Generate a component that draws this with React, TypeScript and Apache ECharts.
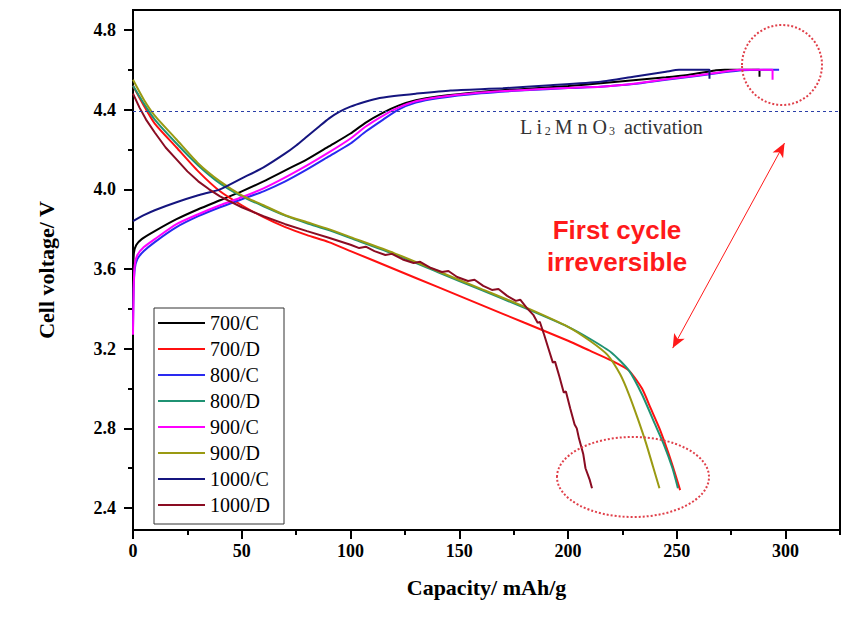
import React, { useEffect, useRef } from "react";
import * as echarts from "echarts";

const seriesNames = ["700/C", "700/D", "800/C", "800/D", "900/C", "900/D", "1000/C", "1000/D"];
const seriesColors = ["#000000", "#ff1010", "#2a2af0", "#1f9273", "#ff00ff", "#9a9a12", "#15157f", "#8a0c22"];

const xLabelValues = [0, 50, 100, 150, 200, 250, 300];
const xMinorValues = [25, 75, 125, 175, 225, 275, 325];
const yLabelValues = [2.4, 2.8, 3.2, 3.6, 4.0, 4.4, 4.8];
const yMinorValues = [2.6, 3.0, 3.4, 3.8, 4.2, 4.6];

const c700: [number, number][] = [[0, 3.56], [0.4, 3.68], [1.5, 3.72], [4, 3.75], [10, 3.79], [20, 3.85], [30, 3.9], [40, 3.945], [50, 3.99], [60, 4.04], [70, 4.095], [80, 4.15], [90, 4.215], [100, 4.28], [107, 4.335], [115, 4.385], [122, 4.42], [130, 4.447], [140, 4.466], [160, 4.489], [180, 4.504], [200, 4.519], [215, 4.532], [230, 4.547], [245, 4.562], [255, 4.574], [262, 4.586], [268, 4.598], [272, 4.6], [288, 4.6], [288, 4.565]];
const d700: [number, number][] = [[0, 4.52], [5, 4.42], [10, 4.33], [20, 4.21], [30, 4.09], [40, 3.99], [50, 3.92], [60, 3.86], [70, 3.81], [80, 3.77], [90, 3.735], [100, 3.69], [120, 3.6], [140, 3.51], [160, 3.42], [180, 3.33], [200, 3.24], [210, 3.19], [220, 3.14], [228, 3.09], [234, 3.0], [238, 2.9], [242, 2.8], [246, 2.68], [249, 2.58], [251.5, 2.49]];
const c800: [number, number][] = [[0, 3.3], [0.3, 3.5], [0.8, 3.6], [2, 3.65], [5, 3.69], [10, 3.735], [20, 3.81], [30, 3.865], [40, 3.91], [50, 3.95], [60, 3.99], [70, 4.04], [80, 4.1], [90, 4.165], [100, 4.23], [107, 4.29], [115, 4.35], [122, 4.4], [130, 4.435], [140, 4.457], [160, 4.482], [180, 4.497], [200, 4.508], [215, 4.515], [230, 4.528], [245, 4.55], [260, 4.57], [270, 4.585], [280, 4.598], [297, 4.6]];
const d800: [number, number][] = [[0, 4.52], [5, 4.43], [10, 4.35], [20, 4.23], [30, 4.12], [40, 4.03], [50, 3.965], [60, 3.915], [70, 3.868], [80, 3.83], [90, 3.795], [100, 3.755], [120, 3.675], [140, 3.585], [160, 3.495], [180, 3.405], [200, 3.31], [210, 3.25], [220, 3.18], [228, 3.09], [234, 2.97], [240, 2.82], [244, 2.72], [248, 2.6], [250.5, 2.5]];
const c900: [number, number][] = [[0, 3.27], [0.3, 3.5], [0.8, 3.62], [2, 3.67], [5, 3.71], [10, 3.75], [20, 3.825], [30, 3.875], [40, 3.92], [50, 3.96], [60, 4.005], [70, 4.06], [80, 4.12], [90, 4.185], [100, 4.255], [107, 4.315], [115, 4.37], [122, 4.41], [130, 4.442], [140, 4.462], [160, 4.486], [180, 4.499], [200, 4.509], [215, 4.515], [230, 4.53], [245, 4.552], [260, 4.572], [270, 4.588], [279, 4.6], [294, 4.6], [294, 4.55]];
const d900: [number, number][] = [[0, 4.55], [5, 4.45], [10, 4.37], [20, 4.25], [30, 4.13], [40, 4.04], [50, 3.97], [60, 3.92], [70, 3.87], [80, 3.835], [90, 3.8], [100, 3.76], [120, 3.68], [140, 3.59], [160, 3.5], [180, 3.41], [200, 3.31], [210, 3.24], [218, 3.17], [224, 3.07], [228, 2.97], [232, 2.85], [236, 2.72], [239, 2.61], [242, 2.5]];
const c1000: [number, number][] = [[0, 3.84], [5, 3.87], [10, 3.895], [20, 3.935], [30, 3.97], [40, 4.0], [50, 4.055], [60, 4.11], [70, 4.18], [75, 4.22], [80, 4.265], [85, 4.31], [90, 4.355], [95, 4.39], [100, 4.415], [106, 4.437], [112, 4.455], [120, 4.468], [130, 4.48], [146, 4.496], [170, 4.507], [192, 4.522], [215, 4.54], [230, 4.565], [245, 4.59], [251, 4.6], [265, 4.6], [265, 4.555]];
const d1000: [number, number][] = [[0, 4.48], [3, 4.41], [6, 4.35], [10, 4.285], [15, 4.21], [20, 4.15], [25, 4.09], [30, 4.04], [35, 4.0], [40, 3.965], [50, 3.91], [60, 3.865], [70, 3.825], [80, 3.79], [90, 3.757], [100, 3.722], [104, 3.705], [107, 3.712], [111, 3.69], [116, 3.67], [119, 3.676], [124, 3.648], [129, 3.63], [132, 3.636], [137, 3.605], [142, 3.585], [145, 3.59], [149, 3.56], [154, 3.54], [157, 3.546], [161, 3.515], [165, 3.495], [168, 3.5], [172, 3.465], [176, 3.44], [178, 3.446], [181, 3.405], [184, 3.37], [186, 3.33], [187, 3.335], [189, 3.27], [191, 3.2], [193, 3.13], [194, 3.135], [196, 3.06], [198, 2.98], [199, 2.985], [201, 2.9], [203, 2.82], [204, 2.8], [205, 2.75], [207, 2.67], [208, 2.6], [210, 2.54], [211, 2.5]];

const seriesData = [c700, d700, c800, d800, c900, d900, c1000, d1000];

const activationLevel = 4.39;
const arrowStart: [number, number] = [248.1, 3.203];
const arrowEnd: [number, number] = [299.5, 4.232];

const SERIF = "'Liberation Serif', 'Times New Roman', serif";

export default function App() {
  const ref = useRef<HTMLDivElement>(null);
  useEffect(() => {
    if (!ref.current) return;
    const chart = echarts.init(ref.current, undefined, { renderer: "svg" });
    const series: any[] = seriesNames.map((name, i) => {
      const s: any = {
        name,
        type: "line",
        data: seriesData[i],
        showSymbol: false,
        symbol: "none",
        smooth: i === 7 ? false : 0.2,
        xAxisIndex: 0,
        yAxisIndex: 0,
        lineStyle: { color: seriesColors[i], width: 2 },
        itemStyle: { color: seriesColors[i] },
        z: 3,
      };
      if (i === 0) {
        s.markLine = {
          silent: true,
          symbol: "none",
          label: { show: false },
          lineStyle: { color: "#2b3fa8", type: [3, 3], width: 1 },
          data: [{ yAxis: activationLevel }],
        };
      }
      if (i === 1) {
        s.markLine = {
          silent: true,
          symbol: ["arrow", "arrow"],
          symbolSize: [9, 14],
          label: { show: false },
          lineStyle: { color: "#ff1a1a", type: "solid", width: 1 },
          data: [[{ coord: arrowStart }, { coord: arrowEnd }]],
        };
      }
      return s;
    });

    const axisCommon = {
      axisLine: { show: true, lineStyle: { color: "#000", width: 2 } },
      splitLine: { show: false },
    };

    chart.setOption({
      animation: false,
      backgroundColor: "#ffffff",
      grid: { left: 133, right: 15, top: 10, bottom: 92, show: true, borderColor: "#000", borderWidth: 2, backgroundColor: "transparent" },
      legend: {
        orient: "vertical",
        left: 154,
        top: 308,
        icon: "rect",
        itemWidth: 47,
        itemHeight: 2,
        itemGap: 6,
        padding: [5, 14, 9, 4],
        borderColor: "#333",
        borderWidth: 1,
        backgroundColor: "#fff",
        textStyle: { fontFamily: SERIF, fontSize: 20, color: "#000", lineHeight: 20 },
        data: seriesNames,
      },
      xAxis: [
        {
          type: "value",
          min: 0,
          max: 325,
          position: "bottom",
          ...axisCommon,
          axisTick: { show: true, customValues: xLabelValues, length: 9, lineStyle: { color: "#000", width: 2 } },
          axisLabel: {
            customValues: xLabelValues,
            margin: 12,
            fontFamily: SERIF,
            fontWeight: "bold",
            fontSize: 18,
            color: "#000",
          },
          name: "Capacity/ mAh/g",
          nameLocation: "middle",
          nameGap: 46,
          nameTextStyle: { fontFamily: SERIF, fontWeight: "bold", fontSize: 22, color: "#000" },
        },
        {
          type: "value",
          min: 0,
          max: 325,
          position: "bottom",
          axisLine: { show: false },
          splitLine: { show: false },
          axisTick: { show: true, customValues: xMinorValues, length: 5, lineStyle: { color: "#000", width: 2 } },
          axisLabel: { show: false },
        },
      ],
      yAxis: [
        {
          type: "value",
          min: 2.29,
          max: 4.9,
          position: "left",
          ...axisCommon,
          axisTick: { show: true, customValues: yLabelValues, length: 9, lineStyle: { color: "#000", width: 2 } },
          axisLabel: {
            customValues: yLabelValues,
            margin: 17,
            formatter: (v: number) => v.toFixed(1),
            fontFamily: SERIF,
            fontWeight: "bold",
            fontSize: 18,
            color: "#000",
          },
          name: "Cell voltage/ V",
          nameLocation: "middle",
          nameGap: 76,
          nameTextStyle: { fontFamily: SERIF, fontWeight: "bold", fontSize: 22, color: "#000" },
        },
        {
          type: "value",
          min: 2.29,
          max: 4.9,
          position: "left",
          axisLine: { show: false },
          splitLine: { show: false },
          axisTick: { show: true, customValues: yMinorValues, length: 5, lineStyle: { color: "#000", width: 2 } },
          axisLabel: { show: false },
        },
      ],
      series,
      graphic: [
        {
          type: "ellipse",
          shape: { cx: 782, cy: 65, rx: 40, ry: 40 },
          style: { fill: "none", stroke: "#e0404a", lineWidth: 2, lineDash: [2, 2] },
          z: 10,
          silent: true,
        },
        {
          type: "ellipse",
          shape: { cx: 633, cy: 477, rx: 76, ry: 40 },
          style: { fill: "none", stroke: "#e0404a", lineWidth: 2, lineDash: [2, 2] },
          z: 10,
          silent: true,
        },
        {
          type: "text",
          left: 520,
          top: 117,
          z: 10,
          silent: true,
          style: {
            text: "{n|L i}{s|2}{n|M n O}{s|3}{n| activation}",
            fill: "#333",
            rich: {
              n: { fontFamily: SERIF, fontSize: 20, fill: "#333", verticalAlign: "bottom", lineHeight: 24 },
              s: { fontFamily: SERIF, fontSize: 12, fill: "#333", verticalAlign: "bottom", lineHeight: 18, padding: [0, 4, 0, 2] },
            },
          },
        },
        {
          type: "text",
          x: 617,
          y: 246,
          z: 10,
          silent: true,
          style: {
            text: "First cycle\nirreversible",
            fill: "#ff1a1a",
            fontFamily: "'Liberation Sans', Arial, sans-serif",
            fontWeight: "bold",
            fontSize: 26,
            lineHeight: 32,
            align: "center",
            verticalAlign: "middle",
          },
        },
      ],
    });
    return () => chart.dispose();
  }, []);
  return <div ref={ref} style={{ position: "fixed", left: 0, top: 0, width: 855, height: 622, background: "#fff" }} />;
}
